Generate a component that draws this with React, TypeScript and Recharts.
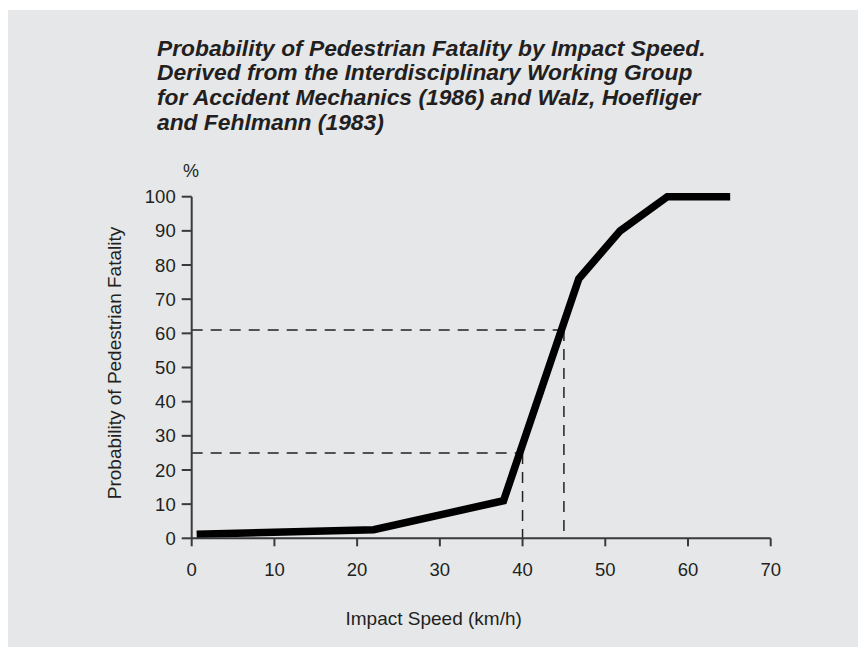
import { LineChart, Line, XAxis, YAxis, ReferenceLine } from "recharts"

// Impact speed (km/h) and probability of pedestrian fatality (%)
const speeds = [0.6, 22, 37.7, 46.8, 51.8, 57.5, 65.1]
const fatality = [1.2, 2.5, 11, 76, 90, 100, 100]

const xTicks = [0, 10, 20, 30, 40, 50, 60, 70]
const yTicks = [0, 10, 20, 30, 40, 50, 60, 70, 80, 90, 100]

// dashed guides: speed -> fatality read-offs
const guideSpeeds = [40, 45]
const guideFatality = [25, 61]

const titleLines = [
  "Probability of Pedestrian Fatality by Impact Speed.",
  "Derived from the Interdisciplinary Working Group",
  "for Accident Mechanics (1986) and Walz, Hoefliger",
  "and Fehlmann (1983)",
]

const FONT = '"Liberation Sans", Arial, Helvetica, sans-serif'
const TEXT = "#231f20"
const AXIS = "#3a3a3a"

const centered = (cx: number, cy: number, rotate = 0): React.CSSProperties => ({
  position: "absolute",
  left: cx,
  top: cy,
  transform: `translate(-50%, -50%) rotate(${rotate}deg)`,
  whiteSpace: "nowrap",
  fontFamily: FONT,
  color: TEXT,
})

export default function App() {
  const data = speeds.map((speed, i) => ({ speed, fatality: fatality[i] }))
  const tick = { fill: TEXT, fontSize: 18.5, fontFamily: FONT }

  return (
    <div
      style={{
        position: "relative",
        marginTop: 2,
        width: 858,
        height: 637,
        background: "#e6e7e9",
        overflow: "hidden",
      }}
    >
      <div
        style={{
          position: "absolute",
          left: 149,
          top: 25.5,
          fontFamily: FONT,
          fontWeight: "bold",
          fontStyle: "italic",
          fontSize: 22.8,
          lineHeight: "24.7px",
          color: TEXT,
          whiteSpace: "nowrap",
        }}
      >
        {titleLines.map((line) => (
          <div key={line}>{line}</div>
        ))}
      </div>

      <LineChart
        width={858}
        height={637}
        data={data}
        margin={{ top: 186.7, right: 95.3, bottom: 68.7, left: 123.7 }}
      >
        <XAxis
          type="number"
          dataKey="speed"
          domain={[0, 70]}
          ticks={xTicks}
          interval={0}
          height={40}
          tickSize={8}
          tickMargin={17}
          axisLine={{ stroke: AXIS, strokeWidth: 2 }}
          tickLine={{ stroke: AXIS, strokeWidth: 2 }}
          tick={tick}
        />
        <YAxis
          type="number"
          domain={[0, 100]}
          ticks={yTicks}
          interval={0}
          width={60}
          tickSize={10}
          tickMargin={6}
          axisLine={{ stroke: AXIS, strokeWidth: 2 }}
          tickLine={{ stroke: AXIS, strokeWidth: 2 }}
          tick={tick}
        />
        {guideSpeeds.map((s, i) => (
          <ReferenceLine
            key={`h${s}`}
            segment={[
              { x: 0, y: guideFatality[i] },
              { x: s, y: guideFatality[i] },
            ]}
            stroke="#222"
            strokeWidth={1.5}
            strokeDasharray="11 8"
          />
        ))}
        {guideSpeeds.map((s, i) => (
          <ReferenceLine
            key={`v${s}`}
            segment={[
              { x: s, y: guideFatality[i] },
              { x: s, y: 0 },
            ]}
            stroke="#222"
            strokeWidth={1.5}
            strokeDasharray="11 8"
          />
        ))}
        <Line
          type="linear"
          dataKey="fatality"
          stroke="#000"
          strokeWidth={7.5}
          strokeLinejoin="miter"
          strokeLinecap="butt"
          dot={false}
          activeDot={false}
          isAnimationActive={false}
        />
      </LineChart>

      <div style={{ ...centered(183, 161), fontSize: 18 }}>%</div>
      <div style={{ ...centered(107, 352.5, -90), fontSize: 19 }}>
        Probability of Pedestrian Fatality
      </div>
      <div style={{ ...centered(425.7, 608.8), fontSize: 19 }}>Impact Speed (km/h)</div>
    </div>
  )
}
